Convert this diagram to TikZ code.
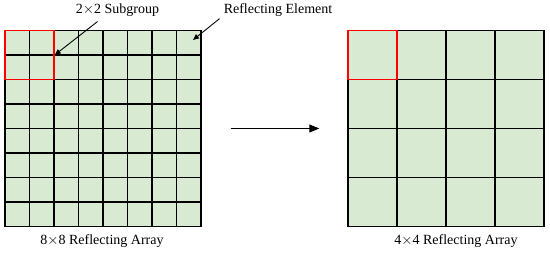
\documentclass[tikz,border=0pt]{standalone}
\usepackage{fontspec}
\setmainfont{Liberation Serif}
\usetikzlibrary{arrows.meta}
\definecolor{cellgreen}{RGB}{217,234,211}
\tikzset{
  arr/.style={-{Triangle[length=6pt,width=5pt]}, line width=0.9pt},
  bigarr/.style={-{Triangle[length=10pt,width=8pt]}, line width=1pt},
  gridbox/.style={draw, fill=cellgreen, line width=1.4pt, inner sep=0pt,
                  minimum width=196pt, minimum height=196pt},
  redbox/.style={draw=red, line width=1.4pt, inner sep=0pt,
                 minimum width=49pt, minimum height=49pt},
  lbl/.style={font=\fontsize{14}{16}\selectfont, inner sep=1pt},
}

\begin{document}
\begin{tikzpicture}[x=1pt,y=-1pt]
\useasboundingbox (0,0) rectangle (550,253);

\node[gridbox] (bigarray)   at (103,128.5) {};
\node[gridbox] (smallarray) at (446,128.5) {};

% cell lines
\foreach \i in {1,...,7} {
  \draw[line width=1.4pt] (5+24.5*\i,30.5) -- ++(0,196);
  \draw[line width=1.4pt] (5,30.5+24.5*\i) -- ++(196,0);
}
\foreach \i in {1,...,3} {
  \draw[line width=1.4pt] (348+49*\i,30.5) -- ++(0,196);
  \draw[line width=1.4pt] (348,30.5+49*\i) -- ++(196,0);
}

\node[redbox] (redsub)  at (29.5,55) {};
\node[redbox] (redcell) at (372.5,55) {};

\node[lbl] (subgroup) at (117.5,10) {2$\times$2 Subgroup};
\node[lbl] (element)  at (278,10)   {Reflecting Element};
\node[lbl] (biglabel)   at (102,241) {8$\times$8 Reflecting Array};
\node[lbl] (smalllabel) at (456,241) {4$\times$4 Reflecting Array};

\coordinate (elemtip) at (193,40);

\draw[arr] ([xshift=-20pt,yshift=-4pt]subgroup.south) -- (redsub.east);
\draw[arr] ([xshift=-3pt,yshift=-1pt]element.south west) -- (elemtip);
\draw[bigarr] ([xshift=29pt]bigarray.east) -- ([xshift=-28pt]smallarray.west);
\end{tikzpicture}
\end{document}
